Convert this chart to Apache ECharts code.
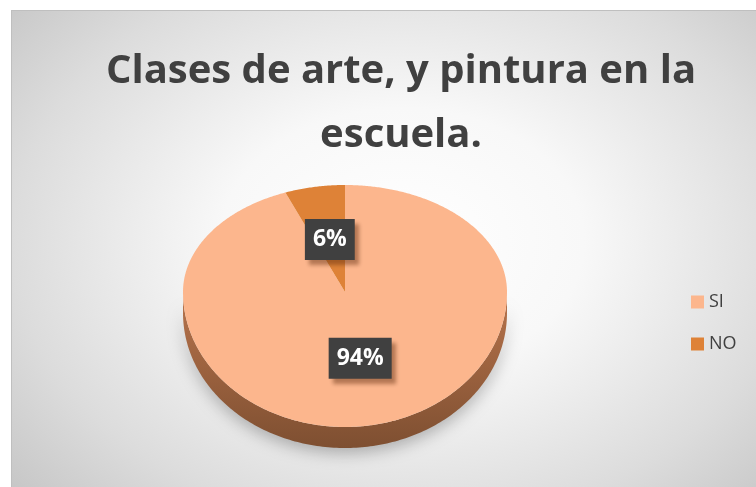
<!DOCTYPE html>
<html>
<head>
<meta charset="utf-8">
<script src="https://cdn.jsdelivr.net/npm/echarts@6/dist/echarts.min.js"></script>
<style>
  html, body { margin: 0; padding: 0; background: #ffffff; overflow: hidden; }
  #bg {
    position: absolute; left: 11px; top: 10px; width: 800px; height: 500px;
    border: 1px solid #bfbfbf;
    background: radial-gradient(ellipse 520px 380px at 390px 230px, #ffffff 0%, #f8f8f8 35%, #dcdcdc 75%, #c6c6c6 100%);
  }
  #main { position: absolute; left: 0; top: 0; width: 756px; height: 487px; }
</style>
</head>
<body>
<div id="bg"></div>
<div id="main"></div>
<script>
// ---- data ----
const categories = ['SI', 'NO'];
const values = [94, 6];
const titleLines = ['Clases de arte, y pintura en la', 'escuela.'];

// ---- styling / geometry ----
const topColors = ['#FCB68D', '#DE8237'];
const geo = { cx: 345, cy: 292, rx: 162, ryBack: 107, ryFront: 135, depth: 21 };
const total = values.reduce((a, b) => a + b, 0);

function pt(deg, dy) {
  const r = deg * Math.PI / 180;
  const c = Math.cos(r);
  const ry = c > 0 ? geo.ryBack : geo.ryFront;
  return [geo.cx + geo.rx * Math.sin(r), geo.cy - ry * c + (dy || 0)];
}

function renderSlice(params, api) {
  const i = params.seriesIndex;
  let before = 0;
  for (let k = 0; k < i; k++) before += values[k];
  const v = api.value(0);
  const a0 = before / total * 360;
  const a1 = (before + v) / total * 360;
  const children = [];

  // side wall (front half only: 90..270)
  const s0 = Math.max(a0, 90), s1 = Math.min(a1, 270);
  if (s1 > s0) {
    const pts = [];
    for (let a = s0; a <= s1 + 1e-6; a += 1) pts.push(pt(Math.min(a, s1), 0));
    for (let a = s1; a >= s0 - 1e-6; a -= 1) pts.push(pt(Math.max(a, s0), geo.depth));
    children.push({
      type: 'polygon', z2: 1,
      shape: { points: pts },
      style: {
        fill: { type: 'linear', x: 0, y: 0, x2: 0, y2: 1, colorStops: [
          { offset: 0, color: '#B8744C' }, { offset: 1, color: '#7E4F31' } ] },
        shadowBlur: 16, shadowColor: 'rgba(0,0,0,0.28)', shadowOffsetY: 5
      }
    });
  }
  // top face
  const tp = [[geo.cx, geo.cy]];
  for (let a = a0; a <= a1 + 1e-6; a += 0.5) tp.push(pt(Math.min(a, a1), 0));
  tp.push(pt(a1, 0));
  children.push({
    type: 'polygon', z2: 5,
    shape: { points: tp },
    style: { fill: topColors[i] }
  });
  // label
  const mid = (a0 + a1) / 2;
  const r = mid * Math.PI / 180;
  const c = Math.cos(r);
  const ry = c > 0 ? geo.ryBack : geo.ryFront;
  const lx = geo.cx + 0.5 * geo.rx * Math.sin(r);
  const ly = geo.cy - 0.5 * ry * c;
  children.push({
    type: 'text', z2: 100,
    x: lx, y: ly,
    style: {
      text: Math.round(v / total * 100) + '%',
      fill: '#ffffff',
      font: 'bold 23px "Open Sans"',
      align: 'center', verticalAlign: 'middle',
      lineHeight: 27,
      backgroundColor: '#404040',
      padding: [7, 8],
      shadowBlur: 4, shadowColor: 'rgba(90,40,10,0.45)', shadowOffsetX: 4, shadowOffsetY: 5
    }
  });
  return { type: 'group', children: children };
}

const chart = echarts.init(document.getElementById('main'), null, { renderer: 'canvas' });
chart.setOption({
  animation: false,
  backgroundColor: 'transparent',
  legend: {
    orient: 'vertical',
    left: 686, top: 288,
    icon: 'rect', itemWidth: 13, itemHeight: 13, itemGap: 24,
    selectedMode: false,
    data: categories,
    textStyle: { color: '#404040', fontSize: 18, fontFamily: 'Open Sans' }
  },
  graphic: [
    { type: 'text', x: 401, y: 72, style: { text: titleLines[0], font: 'bold 40px "Open Sans"', fill: '#404040', align: 'center', verticalAlign: 'middle' } },
    { type: 'text', x: 401, y: 136, style: { text: titleLines[1], font: 'bold 40px "Open Sans"', fill: '#404040', align: 'center', verticalAlign: 'middle' } }
  ],
  series: categories.map((name, i) => ({
    type: 'custom',
    name: name,
    coordinateSystem: 'none',
    itemStyle: { color: topColors[i] },
    renderItem: renderSlice,
    data: [values[i]]
  }))
});
</script>
</body>
</html>
